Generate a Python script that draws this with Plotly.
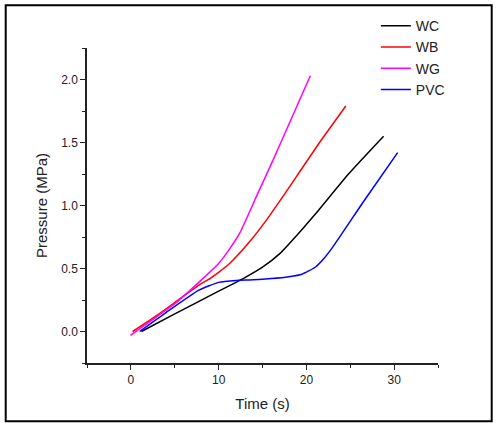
import plotly.graph_objects as go

wc_t = [1.2, 5, 10, 12.8, 15, 17, 19, 21, 24.8, 28.8]
wc_p = [0.0, 0.14, 0.32, 0.42, 0.51, 0.62, 0.77, 0.93, 1.25, 1.55]

wb_t = [0.2, 3, 5, 7.8, 9, 10, 11.25, 13.5, 15.3, 18.1, 21.5, 24.5]
wb_p = [0.0, 0.13, 0.23, 0.37, 0.42, 0.47, 0.54, 0.71, 0.87, 1.15, 1.50, 1.79]

wg_t = [-0.05, 3, 5, 8.2, 10, 11.2, 12.4, 14.3, 16.2, 18.3, 20.45]
wg_p = [-0.03, 0.12, 0.22, 0.42, 0.54, 0.65, 0.78, 1.07, 1.36, 1.69, 2.03]

pvc_t = [1.0, 4, 7.8, 10, 12, 14, 16, 18, 19.5, 21, 22, 23, 26.5, 30.4]
pvc_p = [0.0, 0.15, 0.33, 0.39, 0.405, 0.41, 0.42, 0.435, 0.455, 0.51, 0.58, 0.67, 1.03, 1.42]

series = [
    ('WC', wc_t, wc_p, 'black'),
    ('WB', wb_t, wb_p, 'red'),
    ('WG', wg_t, wg_p, '#ff00ff'),
    ('PVC', pvc_t, pvc_p, 'blue'),
]

fig = go.Figure()
for name, t, p, col in series:
    fig.add_trace(go.Scatter(
        x = t,
        y = p,
        name = name,
        mode = 'lines',
        line = dict(color = col, width = 1.5, shape = 'spline', smoothing = 0.5)
    ))

axis_style = dict(
    showline = True,
    linecolor = '#222222',
    linewidth = 1.5,
    ticks = 'outside',
    ticklen = 5,
    tickwidth = 1.2,
    tickcolor = '#222222',
    showgrid = False,
    zeroline = False,
    tickfont = dict(size = 12, color = '#222222'),
)

fig.update_xaxes(
    range = [-5, 35],
    dtick = 10,
    tick0 = 0,
    minor = dict(ticks = 'outside', dtick = 5, tick0 = -5, ticklen = 3, tickcolor = '#222222'),
    title = dict(text = 'Time (s)', font = dict(size = 15, color = '#222222'), standoff = 12),
    **axis_style
)
fig.update_yaxes(
    range = [-0.25, 2.25],
    dtick = 0.5,
    tick0 = 0,
    tickformat = '.1f',
    minor = dict(ticks = 'outside', dtick = 0.25, tick0 = -0.25, ticklen = 3, tickcolor = '#222222'),
    title = dict(text = 'Pressure (MPa)', font = dict(size = 15, color = '#222222'), standoff = 10),
    **axis_style
)

fig.update_layout(
    width = 496,
    height = 423,
    margin = dict(l = 87, r = 58, t = 48, b = 60, autoexpand = False),
    plot_bgcolor = 'white',
    paper_bgcolor = 'white',
    font = dict(family = 'Liberation Sans, Arial, sans-serif', color = '#222222'),
    legend = dict(
        x = 0.823,
        y = 1.12,
        xanchor = 'left',
        yanchor = 'top',
        font = dict(size = 14),
        bgcolor = 'rgba(0,0,0,0)',
        itemwidth = 30,
        tracegroupgap = 0,
    ),
    shapes = [dict(
        type = 'rect', xref = 'paper', yref = 'paper',
        x0 = -0.2316, x1 = 1.153, y0 = -0.185, y1 = 1.1356,
        line = dict(color = 'black', width = 2)
    )]
)

fig.write_html(
    "out.html",
    config = {'displayModeBar': False},
    post_script = "document.body.style.margin = '0px';"
)
